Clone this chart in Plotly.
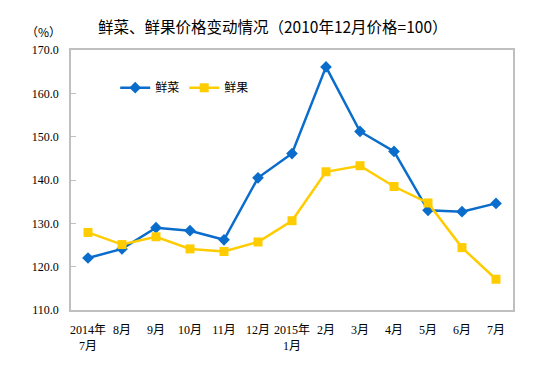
import plotly.graph_objects as go

categories = ["2014年<br>7月", "8月", "9月", "10月", "11月", "12月", "2015年<br>1月",
              "2月", "3月", "4月", "5月", "6月", "7月"]
vegetables = [122.0, 124.1, 129.0, 128.3, 126.2, 140.5, 146.1, 166.1, 151.2, 146.6, 133.0, 132.7, 134.6]
fruits = [127.9, 125.1, 126.9, 124.1, 123.5, 125.7, 130.6, 141.9, 143.3, 138.5, 134.7, 124.4, 117.1]
y_ticks = [110, 120, 130, 140, 150, 160, 170]

num_font = "Liberation Serif, Noto Sans CJK SC, serif"

fig = go.Figure()
fig.add_trace(go.Scatter(
    x=categories, y=vegetables, name="鲜菜", mode="lines+markers",
    line=dict(color="#0A6CCB", width=2.5),
    marker=dict(symbol="diamond", size=9, color="#0A6CCB"),
))
fig.add_trace(go.Scatter(
    x=categories, y=fruits, name="鲜果", mode="lines+markers",
    line=dict(color="#FFCC00", width=2.5),
    marker=dict(symbol="square", size=9, color="#FFCC00"),
))

# page body has an 8px default margin, so the figure is sized to fit inside the window
fig.update_layout(
    width=543, height=370,
    margin=dict(l=63, r=38, t=42, b=68),
    paper_bgcolor="white", plot_bgcolor="white",
    showlegend=True,
    legend=dict(orientation="h", x=0.1, y=0.855, xanchor="left", yanchor="middle",
                font=dict(family="Noto Sans CJK SC", size=12, color="black"),
                bgcolor="rgba(0,0,0,0)", itemwidth=30, tracegroupgap=0),
    font=dict(family=num_font, size=12, color="black"),
)
fig.update_xaxes(
    type="category", range=[-0.5, 12.5],
    showline=True, linecolor="#BFBFBF", linewidth=1.5, mirror=True,
    showgrid=False, ticks="", zeroline=False,
    tickfont=dict(family=num_font, size=12, color="black"), ticklabelstandoff=8,
)
fig.update_yaxes(
    range=[110, 170], tickvals=y_ticks, ticktext=[f"{v:.1f}" for v in y_ticks],
    showline=True, linecolor="#BFBFBF", linewidth=1.5, mirror=True,
    showgrid=False, ticks="inside", ticklen=5, tickcolor="#BFBFBF", zeroline=False,
    tickfont=dict(family=num_font, size=12, color="black"), ticklabelstandoff=8,
)
fig.add_annotation(text="鲜菜、鲜果价格变动情况（2010年12月价格=100）", xref="paper", yref="paper",
                   x=(273 - 71) / 442, y=1 + (50 - 26) / 259.5, xanchor="center", yanchor="middle",
                   showarrow=False, font=dict(family="Noto Sans CJK SC", size=15.5, color="black"))
fig.add_annotation(text="（%）", xref="paper", yref="paper",
                   x=(43 - 71) / 442, y=1 + (50 - 32) / 259.5, xanchor="center", yanchor="middle",
                   showarrow=False, font=dict(family="Noto Sans CJK SC", size=12, color="black"))

fig.write_html("out.html")
